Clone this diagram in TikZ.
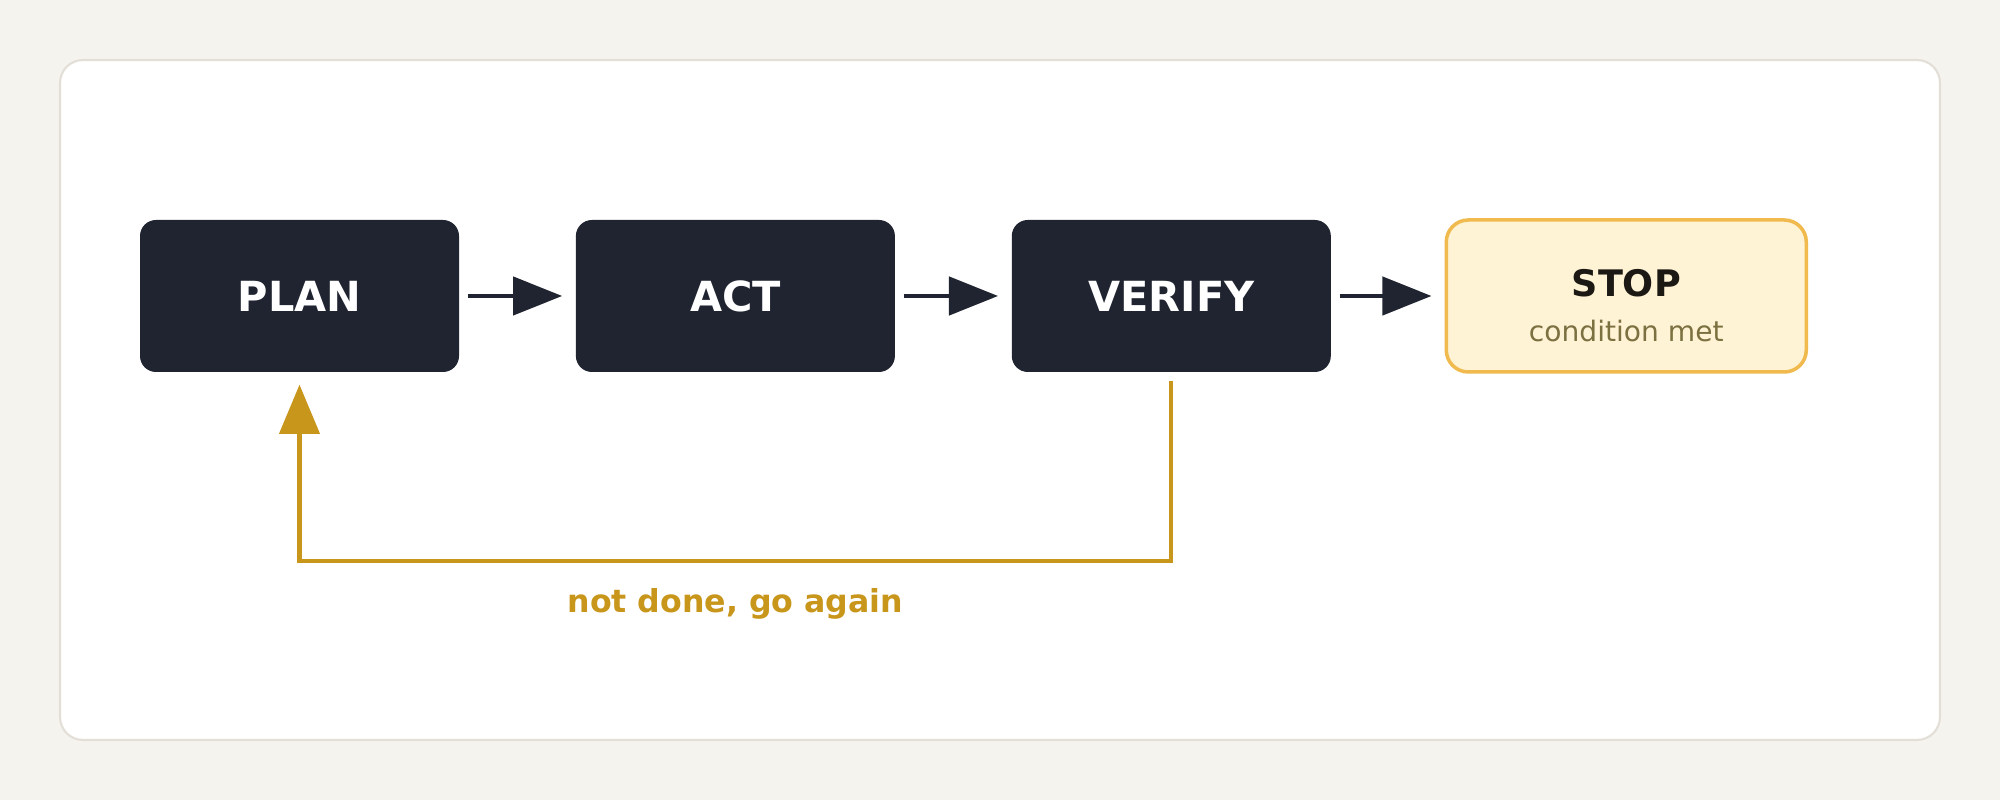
\documentclass[tikz,border=0pt]{standalone}
\usepackage{fontspec}
\setmainfont{DejaVu Sans}
\usetikzlibrary{arrows.meta}
\usetikzlibrary{positioning}

\definecolor{pagebg}{HTML}{F5F3EE}
\definecolor{panelline}{HTML}{E3DFD6}
\definecolor{boxdark}{HTML}{1F2430}
\definecolor{gold}{HTML}{C8961A}
\definecolor{stopfill}{HTML}{FFF3D6}
\definecolor{stopline}{HTML}{F0BA4E}
\definecolor{stopink}{HTML}{1C1814}
\definecolor{noteink}{HTML}{7A7040}

\begin{document}
\begin{tikzpicture}[
    stepbox/.style={rectangle, rounded corners=0.16cm, fill=boxdark, text=white,
        minimum width=3.19cm, minimum height=1.52cm, font=\fontsize{11.8}{14}\selectfont\bfseries},
    stopbox/.style={rectangle, rounded corners=0.22cm, fill=stopfill, draw=stopline,
        line width=1pt, minimum width=3.6cm, minimum height=1.52cm},
    flow/.style={draw=boxdark, line width=1.4pt, -{Triangle[length=14pt, width=10.8pt]},
        shorten <=0.08cm, shorten >=0.13cm},
    loopback/.style={draw=gold, line width=1.15pt, -{Triangle[length=14pt, width=11.4pt]},
        shorten <=0.08cm, shorten >=0.12cm},
    node distance=1.155cm]
    \useasboundingbox (0, 0) rectangle (20, 8);
    \fill [pagebg] (0, 0) rectangle (20, 8);
    \draw [fill=white, draw=panelline, line width=0.6pt, rounded corners=0.23cm] (0.6, 0.6) rectangle (19.4, 7.4);

    \node [stepbox] (plan) at (2.995, 5.04) {PLAN};
    \node [stepbox, right=of plan] (act) {ACT};
    \node [stepbox, right=of act] (verify) {VERIFY};
    \node [stopbox, right=1.13cm of verify] (stop) {};
    \node [anchor=base, text=stopink, font=\fontsize{10.4}{12}\selectfont\bfseries] (stoptitle) at ([yshift=-0.01cm] stop.center) {STOP};
    \node [anchor=base, text=noteink, font=\fontsize{8}{10}\selectfont] (stopnote) at ([yshift=-0.46cm] stop.center) {condition met};

    \draw [flow] (plan) -- (act);
    \draw [flow] (act) -- (verify);
    \draw [flow] (verify) -- (stop);

    \draw [loopback] (verify.south) -- ++(0, -1.88) -| node [pos=0.25, below=0.14cm, text=gold, font=\fontsize{9}{11}\selectfont\bfseries] (again) {not done, go again} (plan.south);
\end{tikzpicture}
\end{document}
